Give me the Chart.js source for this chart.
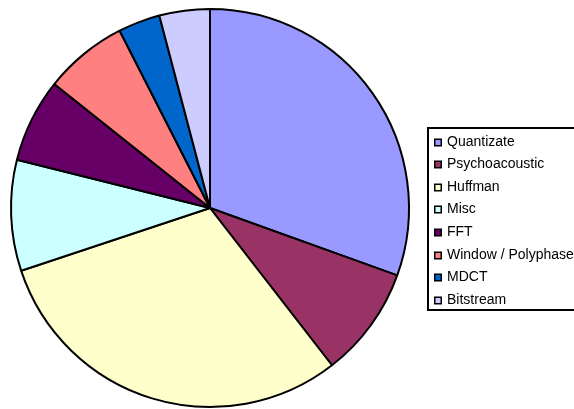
<!DOCTYPE html>
<html>
<head>
<meta charset="utf-8">
<script src="https://cdn.jsdelivr.net/npm/chart.js@4/dist/chart.umd.min.js"></script>
<style>
  html, body { margin: 0; padding: 0; background: #ffffff; }
  #wrap { width: 574px; height: 409px; position: relative; }
</style>
</head>
<body>
<div id="wrap"><canvas id="c" width="574" height="409"></canvas></div>
<script>
const categories = ["Quantizate", "Psychoacoustic", "Huffman", "Misc", "FFT", "Window / Polyphase", "MDCT", "Bitstream"];
const shares = [30.5, 9.0, 30.4, 9.0, 6.8, 6.8, 3.4, 4.1];
const sliceColors = ["#9999FF", "#993366", "#FFFFCC", "#CCFFFF", "#660066", "#FF8080", "#0066CC", "#CCCCFF"];

const boxedLegend = {
  id: 'boxedLegend',
  afterDraw(chart) {
    const ctx = chart.ctx;
    const labels = chart.data.labels;
    const colors = chart.data.datasets[0].backgroundColor;
    ctx.save();
    ctx.strokeStyle = '#000000';
    ctx.lineWidth = 2;
    ctx.strokeRect(428, 128, 160, 182);
    ctx.font = '14px "Liberation Sans", Arial, sans-serif';
    ctx.textBaseline = 'middle';
    ctx.textAlign = 'left';
    labels.forEach((lab, i) => {
      const y = Math.round(141.5 + i * 22.6);
      ctx.fillStyle = '#000000';
      ctx.fillRect(434, y - 3.5, 8, 8);
      ctx.fillStyle = colors[i];
      ctx.fillRect(435.5, y - 2, 5, 5);
      ctx.fillStyle = '#000000';
      ctx.fillText(lab, 447, y + 0.5);
    });
    ctx.restore();
  }
};

new Chart(document.getElementById('c'), {
  type: 'pie',
  data: {
    labels: categories,
    datasets: [{
      data: shares,
      backgroundColor: sliceColors,
      borderColor: '#000000',
      borderWidth: 2,
      borderAlign: 'center'
    }]
  },
  options: {
    responsive: false,
    animation: false,
    layout: { padding: { top: 8, bottom: 1, left: 10, right: 164 } },
    plugins: {
      legend: { display: false },
      tooltip: { enabled: false }
    }
  },
  plugins: [boxedLegend]
});
</script>
</body>
</html>
